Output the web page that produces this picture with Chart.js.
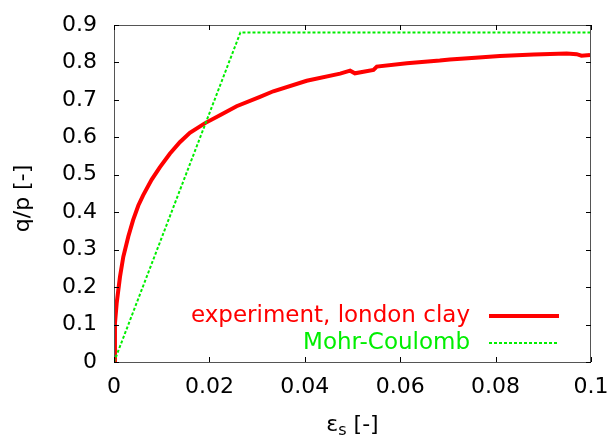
<!DOCTYPE html>
<html>
<head>
<meta charset="utf-8">
<script src="https://cdn.jsdelivr.net/npm/chart.js@4.4.0/dist/chart.umd.min.js"></script>
<style>
  body { margin: 0; background: #fff; }
  #wrap { width: 609px; height: 444px; }
</style>
</head>
<body>
<div id="wrap"><canvas id="qpChart"></canvas></div>
<script>
// experiment, london clay
const expStrain = [0, 0.0002, 0.00056, 0.00126, 0.00195, 0.003, 0.004, 0.0051, 0.0061, 0.0079,
    0.0096, 0.0117, 0.0138, 0.0159, 0.0191, 0.0222, 0.0257, 0.0306, 0.0334, 0.0404,
    0.0474, 0.0495, 0.0505, 0.0544, 0.0551, 0.0614, 0.0683, 0.0704, 0.075, 0.0809,
    0.088, 0.0949, 0.097, 0.098, 0.0998];
const expRatio = [0, 0.103, 0.157, 0.228, 0.281, 0.335, 0.379, 0.418, 0.445, 0.487,
    0.52, 0.556, 0.587, 0.612, 0.638, 0.659, 0.683, 0.708, 0.723, 0.751,
    0.77, 0.778, 0.771, 0.78, 0.789, 0.798, 0.805, 0.808, 0.812, 0.817,
    0.821, 0.824, 0.822, 0.818, 0.82];

// Mohr-Coulomb
const mcStrain = [0, 0.0265, 0.1];
const mcRatio = [0, 0.88, 0.88];

const seriesLabels = ['experiment, london clay', 'Mohr-Coulomb'];
const xTitle = 'ε';
const xTitleSub = 's';
const xTitleRest = ' [-]';
const yTitle = 'q/p [-]';

const FONT = 'DejaVu Sans';

function toPoints(xs, ys) {
    return xs.map((x, i) => ({ x: x, y: ys[i] }));
}

function noScalePad(scale) {
    scale.paddingTop = 0;
    scale.paddingBottom = 0;
    scale.paddingLeft = 0;
    scale.paddingRight = 0;
}

// inward ticks on all four sides + full border, legend and titles
const framePlugin = {
    id: 'frame',
    afterDraw(chart) {
        const ctx = chart.ctx;
        const a = chart.chartArea;
        const xs = chart.scales.x;
        const ys = chart.scales.y;
        ctx.save();
        ctx.strokeStyle = '#555';
        ctx.lineWidth = 1;
        ctx.strokeRect(a.left + 0.5, a.top + 0.5, a.right - a.left - 1, a.bottom - a.top);
        ctx.strokeStyle = '#000';
        ctx.beginPath();
        xs.ticks.forEach(t => {
            const px = Math.round(xs.getPixelForValue(t.value)) + 0.5;
            ctx.moveTo(px, a.bottom); ctx.lineTo(px, a.bottom - 5);
            ctx.moveTo(px, a.top); ctx.lineTo(px, a.top + 5);
        });
        ys.ticks.forEach(t => {
            const py = Math.round(ys.getPixelForValue(t.value)) + 0.5;
            ctx.moveTo(a.left, py); ctx.lineTo(a.left + 5, py);
            ctx.moveTo(a.right, py); ctx.lineTo(a.right - 5, py);
        });
        ctx.stroke();

        // legend, gnuplot style (bottom right, text then sample)
        ctx.font = '23px "' + FONT + '"';
        ctx.textAlign = 'right';
        ctx.textBaseline = 'middle';
        const rows = [a.bottom - 46, a.bottom - 19];
        chart.data.datasets.forEach((ds, i) => {
            const yRow = rows[i];
            ctx.fillStyle = ds.borderColor;
            ctx.fillText(seriesLabels[i], a.right - 121, yRow);
            ctx.strokeStyle = ds.borderColor;
            ctx.lineWidth = ds.borderWidth;
            ctx.setLineDash(ds.borderDash || []);
            ctx.beginPath();
            ctx.moveTo(a.right - 102, yRow);
            ctx.lineTo(a.right - 32, yRow);
            ctx.stroke();
            ctx.setLineDash([]);
        });

        // axis titles
        ctx.font = '22px "' + FONT + '"';
        ctx.fillStyle = '#000';
        ctx.textAlign = 'center';
        ctx.save();
        ctx.translate(23, (a.top + a.bottom) / 2 + 5);
        ctx.rotate(-Math.PI / 2);
        ctx.fillText(yTitle, 0, 0);
        ctx.restore();

        const wE = ctx.measureText(xTitle).width;
        ctx.font = '16px "' + FONT + '"';
        const wS = ctx.measureText(xTitleSub).width;
        ctx.font = '22px "' + FONT + '"';
        const wR = ctx.measureText(xTitleRest).width;
        let x0 = (a.left + a.right) / 2 - (wE + wS + wR) / 2;
        const yT = 425;
        ctx.textAlign = 'left';
        ctx.fillText(xTitle, x0, yT);
        ctx.font = '16px "' + FONT + '"';
        ctx.fillText(xTitleSub, x0 + wE, yT + 6);
        ctx.font = '22px "' + FONT + '"';
        ctx.fillText(xTitleRest, x0 + wE + wS, yT);
        ctx.restore();
    }
};

const ctx = document.getElementById('qpChart').getContext('2d');
const qpChart = new Chart(ctx, {
    type: 'line',
    data: {
        datasets: [
            {
                label: seriesLabels[0],
                data: toPoints(expStrain, expRatio),
                borderColor: '#ff0000',
                borderWidth: 4,
                pointRadius: 0,
                tension: 0,
                order: 1
            },
            {
                label: seriesLabels[1],
                data: toPoints(mcStrain, mcRatio),
                borderColor: '#00ee00',
                borderWidth: 2,
                borderDash: [3, 2],
                pointRadius: 0,
                tension: 0,
                order: 0
            }
        ]
    },
    options: {
        responsive: true,
        maintainAspectRatio: false,
        animation: false,
        layout: { padding: { top: 25, right: 18, left: 0, bottom: 0 } },
        plugins: {
            legend: { display: false },
            tooltip: { enabled: false }
        },
        scales: {
            x: {
                type: 'linear',
                min: 0,
                max: 0.1,
                ticks: {
                    stepSize: 0.02,
                    color: '#000',
                    padding: 12,
                    maxRotation: 0,
                    font: { family: FONT, size: 22 },
                    callback: v => String(+v.toFixed(2))
                },
                grid: { drawOnChartArea: false, drawTicks: false },
                border: { display: false },
                afterFit(scale) { scale.height = 82; noScalePad(scale); }
            },
            y: {
                type: 'linear',
                min: 0,
                max: 0.9,
                ticks: {
                    stepSize: 0.1,
                    color: '#000',
                    padding: 17,
                    font: { family: FONT, size: 22 },
                    callback: v => String(+v.toFixed(1))
                },
                grid: { drawOnChartArea: false, drawTicks: false },
                border: { display: false },
                afterFit(scale) { scale.width = 114; noScalePad(scale); }
            }
        }
    },
    plugins: [framePlugin]
});
</script>
</body>
</html>
